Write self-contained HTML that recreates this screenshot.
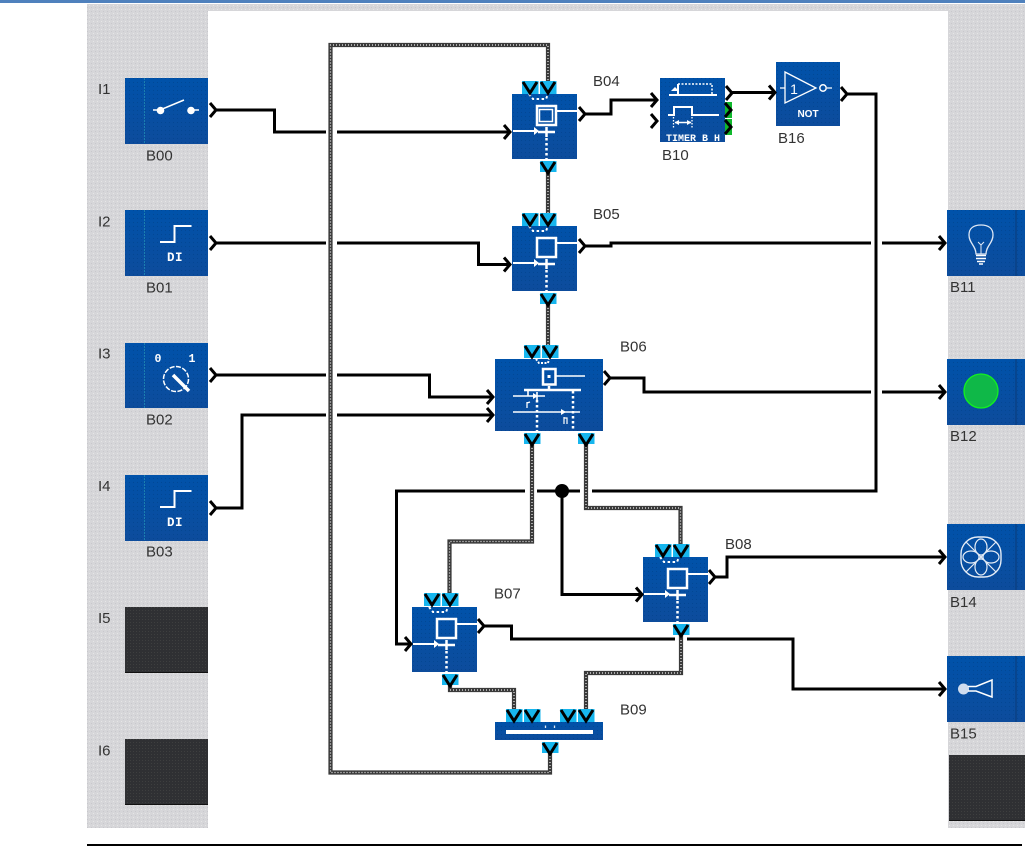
<!DOCTYPE html>
<html>
<head>
<meta charset="utf-8">
<style>
html,body{margin:0;padding:0;background:#fff;width:1025px;height:847px;overflow:hidden}
svg{display:block}
text{font-family:"Liberation Sans",sans-serif}
.l{font-size:15px;fill:#333}
.m{font-family:"Liberation Mono",monospace;font-weight:bold;fill:#fff}
.k{fill:none;stroke:#000;stroke-width:3}
.w1{fill:none;stroke:#3a3a3a;stroke-width:4.2}
.w2{fill:none;stroke:#eee;stroke-width:1.2;stroke-dasharray:1 2}
.i{fill:none;stroke:#fff;stroke-width:2}
.d{fill:none;stroke:#fff;stroke-width:2.5;stroke-dasharray:2.5 2.5}
</style>
</head>
<body>
<svg width="1025" height="847" viewBox="0 0 1025 847" xmlns="http://www.w3.org/2000/svg">
<defs>
<pattern id="gp" width="4" height="4" patternUnits="userSpaceOnUse">
<rect width="4" height="4" fill="#d6d6d9"/><rect x="1" y="1" width="1" height="1" fill="#e6e6e6"/><rect x="3" y="3" width="1" height="1" fill="#c8c8cc"/>
</pattern>
<linearGradient id="bg" x1="0" y1="0" x2="0" y2="1"><stop offset="0" stop-color="#0052aa"/><stop offset="1" stop-color="#0d4c9c"/></linearGradient>
<pattern id="dots" width="4" height="4" patternUnits="userSpaceOnUse"><rect x="1" y="2" width="1" height="1" fill="#003f86" opacity=".55"/></pattern>
<pattern id="dk" width="3" height="3" patternUnits="userSpaceOnUse"><rect width="3" height="3" fill="#2f3033"/><rect x="1" y="1" width="1" height="1" fill="#3e3f3f"/></pattern>
<g id="inp"><path class="i" d="M0,0H22"/><path d="M21,-4L26,0L21,4Z" fill="#fff"/></g>
<g id="tile"><rect x="-8" y="0" width="16.500" height="13" fill="#17b6ee"/><path d="M-7,1L0,12L7,1" fill="none" stroke="#000" stroke-width="3"/></g>
<g id="btile"><rect x="-8" y="0" width="16.500" height="11" fill="#17b6ee"/><path d="M-7,1L0,12L7,1" fill="none" stroke="#000" stroke-width="3"/></g>
<path id="ch" d="M-1,-7L5,0L-1,7" fill="none" stroke="#000" stroke-width="3"/>
<g id="logic">
<rect width="65" height="65" fill="url(#bg)"/><rect width="65" height="65" fill="url(#dots)"/>
<path d="M17,0L21,5H34L36,0" fill="none" stroke="#fff" stroke-width="2" stroke-dasharray="2.500 2.500"/>
<rect x="25" y="12" width="19" height="19" fill="none" stroke="#fff" stroke-width="2.500"/>
<path class="i" d="M45,17H65" stroke-width="1.500"/>
<use href="#inp" x="1" y="37"/>
<path d="M26,38H43M34.500,33V43" fill="none" stroke="#fff" stroke-width="2.500"/>
<path class="d" d="M34.500,44V65"/>
</g>
<g id="di">
<path class="i" d="M160,242H174.500V226H191.500" stroke-width="1.800"/>
<text x="175" y="261" text-anchor="middle" class="m" font-size="12.500" letter-spacing=".5">DI</text>
</g>
</defs>

<rect x="0" y="0" width="1025" height="3" fill="#4f81bd"/>
<rect x="87" y="4" width="938" height="824" fill="url(#gp)"/>
<rect x="208" y="11" width="740" height="817" fill="#fff"/>
<rect x="1016" y="828" width="9" height="1" fill="#fff"/>
<rect x="87" y="844" width="935" height="2" fill="#000"/>

<!-- left blocks -->
<g>
<rect x="125" y="78" width="83" height="66" fill="url(#bg)"/><rect x="125" y="78" width="83" height="66" fill="url(#dots)"/>
<rect x="125" y="210" width="83" height="66" fill="url(#bg)"/><rect x="125" y="210" width="83" height="66" fill="url(#dots)"/>
<rect x="125" y="343" width="83" height="65" fill="url(#bg)"/><rect x="125" y="343" width="83" height="65" fill="url(#dots)"/>
<rect x="125" y="475" width="83" height="66" fill="url(#bg)"/><rect x="125" y="475" width="83" height="66" fill="url(#dots)"/>
<rect x="125" y="607" width="83" height="66" fill="url(#dk)"/><rect x="125" y="672" width="83" height="1" fill="#111"/>
<rect x="125" y="739" width="83" height="66" fill="url(#dk)"/><rect x="125" y="804" width="83" height="1" fill="#111"/>
<path d="M144.500,78V144M144.500,210V276M144.500,343V408M144.500,475V541" stroke="#1b7fb0" stroke-width="1" stroke-dasharray="2 1" fill="none"/>
<!-- switch -->
<path d="M153,110H160L184,100M191,110H199" fill="none" stroke="#fff" stroke-width="1.500"/>
<circle cx="160.500" cy="110.500" r="3.800" fill="#fff"/><circle cx="191" cy="110.500" r="3.800" fill="#fff"/>
<use href="#di"/>
<use href="#di" y="265"/>
<!-- selector -->
<text x="158" y="362" text-anchor="middle" class="m" font-size="11.500">0</text>
<text x="192" y="362" text-anchor="middle" class="m" font-size="11.500">1</text>
<circle cx="176" cy="379" r="12.500" fill="none" stroke="#fff" stroke-width="1.500" stroke-dasharray="5 1.500"/>
<path d="M173,375L189,391" stroke="#fff" stroke-width="3.500"/>
</g>

<!-- right blocks -->
<g>
<rect x="947" y="210" width="78" height="66" fill="url(#bg)"/><rect x="947" y="210" width="78" height="66" fill="url(#dots)"/>
<rect x="947" y="359" width="78" height="66" fill="url(#bg)"/><rect x="947" y="359" width="78" height="66" fill="url(#dots)"/>
<rect x="947" y="524" width="78" height="66" fill="url(#bg)"/><rect x="947" y="524" width="78" height="66" fill="url(#dots)"/>
<rect x="947" y="656" width="78" height="66" fill="url(#bg)"/><rect x="947" y="656" width="78" height="66" fill="url(#dots)"/>
<rect x="949" y="755" width="76" height="66" fill="url(#dk)"/><rect x="949" y="820" width="76" height="1" fill="#111"/>
<path d="M1016,210V276M1016,359V425M1016,524V590M1016,656V722" stroke="#0a3a78" stroke-width="1"/>
<!-- bulb -->
<path d="M976,254C976,246 969,243 969,235C969,228 974,225 981,225C988,225 993,228 993,235C993,243 986,246 986,254Z" fill="none" stroke="#dfe8f5" stroke-width="1.300"/>
<path d="M981,254V245L978,242M981,245L984,242" fill="none" stroke="#dfe8f5" stroke-width="1"/>
<path d="M976,255.500H986M976,258.500H986M977,261.500H985M979,264H983" stroke="#fff" stroke-width="1.600"/>
<!-- lamp -->
<circle cx="981" cy="391" r="17" fill="#0fb848" stroke="#12f020" stroke-width="1.300"/>
<!-- fan -->
<rect x="961" y="537" width="40" height="40" rx="17" fill="none" stroke="#e4ecf6" stroke-width="1.400"/>
<g fill="none" stroke="#e4ecf6" stroke-width="1.200">
<ellipse cx="981" cy="547" rx="6" ry="8"/><ellipse cx="981" cy="567" rx="6" ry="8"/><ellipse cx="971" cy="557" rx="8" ry="6"/><ellipse cx="991" cy="557" rx="8" ry="6"/>
<path d="M966,542L996,572M996,542L966,572"/>
</g>
<!-- horn -->
<circle cx="963.500" cy="689" r="5.500" fill="#cfdcee"/>
<path d="M968,686.500H976L992,680V697L976,691H968" fill="none" stroke="#fff" stroke-width="1.500"/>
</g>

<!-- logic blocks -->
<use href="#logic" x="512" y="94"/>
<rect x="539.500" y="109.500" width="13" height="12" fill="none" stroke="#fff" stroke-width="1.500"/>
<use href="#logic" x="512" y="226"/>
<use href="#logic" x="412" y="607"/>
<use href="#logic" x="643" y="557"/>

<!-- B06 -->
<rect x="495" y="359" width="108" height="72" fill="url(#bg)"/><rect x="495" y="359" width="108" height="72" fill="url(#dots)"/>
<path d="M536,359L539,363H548L549,359" fill="none" stroke="#fff" stroke-width="2" stroke-dasharray="2 1.500"/>
<rect x="543" y="369" width="12.500" height="15.500" fill="none" stroke="#fff" stroke-width="2.500"/>
<rect x="547.500" y="375" width="3" height="3" fill="#fff"/>
<path d="M556,376H585" stroke="#fff" stroke-width="1.500"/>
<path d="M524,390H581M549,386V390" stroke="#fff" stroke-width="2.500"/>
<path d="M528,390V396M513,396H535M530,396H545M537,392V401" stroke="#fff" stroke-width="1.600" fill="none"/>
<path d="M533,393L538,396L533,399Z" fill="#fff"/>
<path d="M513,412H580" stroke="#fff" stroke-width="1.600"/>
<path d="M561,409L566,412L561,415Z" fill="#fff"/>
<path class="d" d="M537,400V431M573,391V431"/>
<path d="M527,402V408M527,403L530,402" stroke="#fff" stroke-width="1.300" fill="none"/>
<path d="M564,417V424M564,418H567V424" stroke="#fff" stroke-width="1.200" fill="none"/>

<!-- B09 -->
<rect x="495" y="722" width="108" height="18" fill="url(#bg)"/><rect x="495" y="722" width="108" height="18" fill="url(#dots)"/>
<rect x="506" y="730" width="87" height="4" fill="#fff"/>
<path d="M545.500,725.500V728M554.500,725.500V728" stroke="#dfe8f5" stroke-width="1.300"/>

<!-- B10 -->
<rect x="660" y="78" width="65" height="64" fill="url(#bg)"/><rect x="660" y="78" width="65" height="64" fill="url(#dots)"/>
<path d="M669,95H678V84" class="i" stroke-width="1.500"/>
<path d="M678,84H712V95" fill="none" stroke="#fff" stroke-width="1.500" stroke-dasharray="2 1.500"/>
<path d="M678,95H717" class="i" stroke-width="1.500"/>
<path d="M671,91L675,87L679,91Z" fill="#fff"/>
<path d="M668,115H674V107H692V115H719" class="i" stroke-width="1.500"/>
<path d="M673.500,117V128M692,117V128" fill="none" stroke="#fff" stroke-width="1.300" stroke-dasharray="1.500 1.500"/>
<path d="M675,122.500H691" stroke="#fff" stroke-width="1.500"/>
<path d="M679,120L674.500,122.500L679,125ZM687,120L691.500,122.500L687,125Z" fill="#fff"/>
<text x="666" y="141" class="m" font-size="10.500" textLength="54" lengthAdjust="spacingAndGlyphs">TIMER B H</text>

<!-- B16 -->
<rect x="776" y="62" width="64" height="64" fill="url(#bg)"/><rect x="776" y="62" width="64" height="64" fill="url(#dots)"/>
<path d="M785,72V103L816,88Z" fill="none" stroke="#fff" stroke-width="1.300"/>
<path d="M780,88H785M827,88H832" stroke="#fff" stroke-width="1.300"/>
<circle cx="823" cy="88" r="3.200" fill="none" stroke="#fff" stroke-width="1.500"/>
<text x="794" y="94" text-anchor="middle" font-size="14" fill="#fff" style="font-family:'Liberation Sans',sans-serif">1</text>
<text x="808" y="117" text-anchor="middle" font-size="10" fill="#fff" font-weight="bold">NOT</text>

<!-- special wires -->
<g id="w">
<path class="w1" d="M550,753V772.500H330.500V45H548V82"/>
<path class="w1" d="M548,170V213M548,302V345M532,445V541.500H449.500V594M586,444V508H680.500V545M450,684V690H514V710M681,634V673H586V710"/>
<path class="w2" d="M550,753V772.500H330.500V45H548V82"/>
<path class="w2" d="M548,170V213M548,302V345M532,445V541.500H449.500V594M586,444V508H680.500V545M450,684V690H514V710M681,634V673H586V710"/>
</g>

<!-- black wires -->
<g>
<path class="k" d="M216,110H274.500V132H326M337,132H508"/>
<path class="k" d="M216,243H326M337,243H478.500V264.500H508"/>
<path class="k" d="M216,375H326M337,375H429.500V397H491"/>
<path class="k" d="M216,508H242V415H326M337,415H491"/>
<path class="k" d="M585,114H611V100H655"/>
<path class="k" d="M585,246H611V243H871M882,243H943"/>
<path class="k" d="M730,92.500H773"/>
<path class="k" d="M846,94H876V491H592M580,491H537M525,491H396.500V644H409"/>
<path class="k" d="M562,491V594.500H640"/>
<path class="k" d="M609,378H644V392H871M882,392H943"/>
<path class="k" d="M484,626H511.500V639H675M687,639H793V689H943"/>
<path class="k" d="M714,577H727V557H943"/>
<circle cx="562" cy="491" r="7" fill="#000"/>
</g>

<!-- output chevrons -->
<use href="#ch" x="211" y="110"/><use href="#ch" x="211" y="243"/><use href="#ch" x="211" y="375"/><use href="#ch" x="211" y="508"/>
<use href="#ch" x="580" y="114"/><use href="#ch" x="580" y="246"/><use href="#ch" x="605" y="378"/>
<use href="#ch" x="479" y="626"/><use href="#ch" x="710" y="577"/>
<use href="#ch" x="727" y="93"/><use href="#ch" x="842" y="94"/>
<rect x="725" y="102" width="7" height="16" fill="#0fb82c"/><rect x="725" y="119" width="7" height="16" fill="#0fb82c"/>
<use href="#ch" x="726" y="110"/><use href="#ch" x="726" y="127"/>

<!-- input chevrons -->
<use href="#ch" x="505" y="132"/><use href="#ch" x="505" y="264.500"/><use href="#ch" x="488" y="397"/><use href="#ch" x="488" y="415"/>
<use href="#ch" x="406" y="644"/><use href="#ch" x="637" y="594.500"/>
<use href="#ch" x="652" y="100"/><use href="#ch" x="652" y="121"/><use href="#ch" x="770" y="92.500"/>
<use href="#ch" x="940" y="243"/><use href="#ch" x="940" y="392"/><use href="#ch" x="940" y="557"/><use href="#ch" x="940" y="689"/>

<!-- tiles -->
<use href="#tile" x="530" y="81"/><use href="#tile" x="548" y="81"/><use href="#btile" x="548" y="161"/>
<use href="#tile" x="530" y="213"/><use href="#tile" x="548" y="213"/><use href="#btile" x="548" y="293"/>
<use href="#tile" x="532" y="345"/><use href="#tile" x="550" y="345"/><use href="#btile" x="532" y="433"/><use href="#btile" x="586" y="433"/>
<use href="#tile" x="432" y="593"/><use href="#tile" x="450" y="593"/><use href="#btile" x="450" y="674"/>
<use href="#tile" x="663" y="544"/><use href="#tile" x="681" y="544"/><use href="#btile" x="681" y="624"/>
<use href="#tile" x="514" y="709"/><use href="#tile" x="532" y="709"/><use href="#tile" x="568" y="709"/><use href="#tile" x="586" y="709"/><use href="#btile" x="550" y="742"/>

<!-- labels -->
<g class="l">
<text class="l" x="98" y="94">I1</text><text class="l" x="98" y="226.500">I2</text><text class="l" x="98" y="358.500">I3</text><text class="l" x="98" y="491">I4</text><text class="l" x="98" y="623">I5</text><text class="l" x="98" y="755.500">I6</text>
<text class="l" x="146" y="160.500">B00</text><text class="l" x="146" y="292.500">B01</text><text class="l" x="146" y="424.500">B02</text><text class="l" x="146" y="556.500">B03</text>
<text class="l" x="593" y="86">B04</text><text class="l" x="593" y="219">B05</text><text class="l" x="620" y="351.500">B06</text>
<text class="l" x="494" y="598.500">B07</text><text class="l" x="725" y="549">B08</text><text class="l" x="620" y="714.500">B09</text>
<text class="l" x="662" y="160">B10</text><text class="l" x="778" y="143">B16</text>
<text class="l" x="950" y="292">B11</text><text class="l" x="950" y="441">B12</text><text class="l" x="950" y="607">B14</text><text class="l" x="950" y="738.500">B15</text>
</g>
</svg>
</body>
</html>
